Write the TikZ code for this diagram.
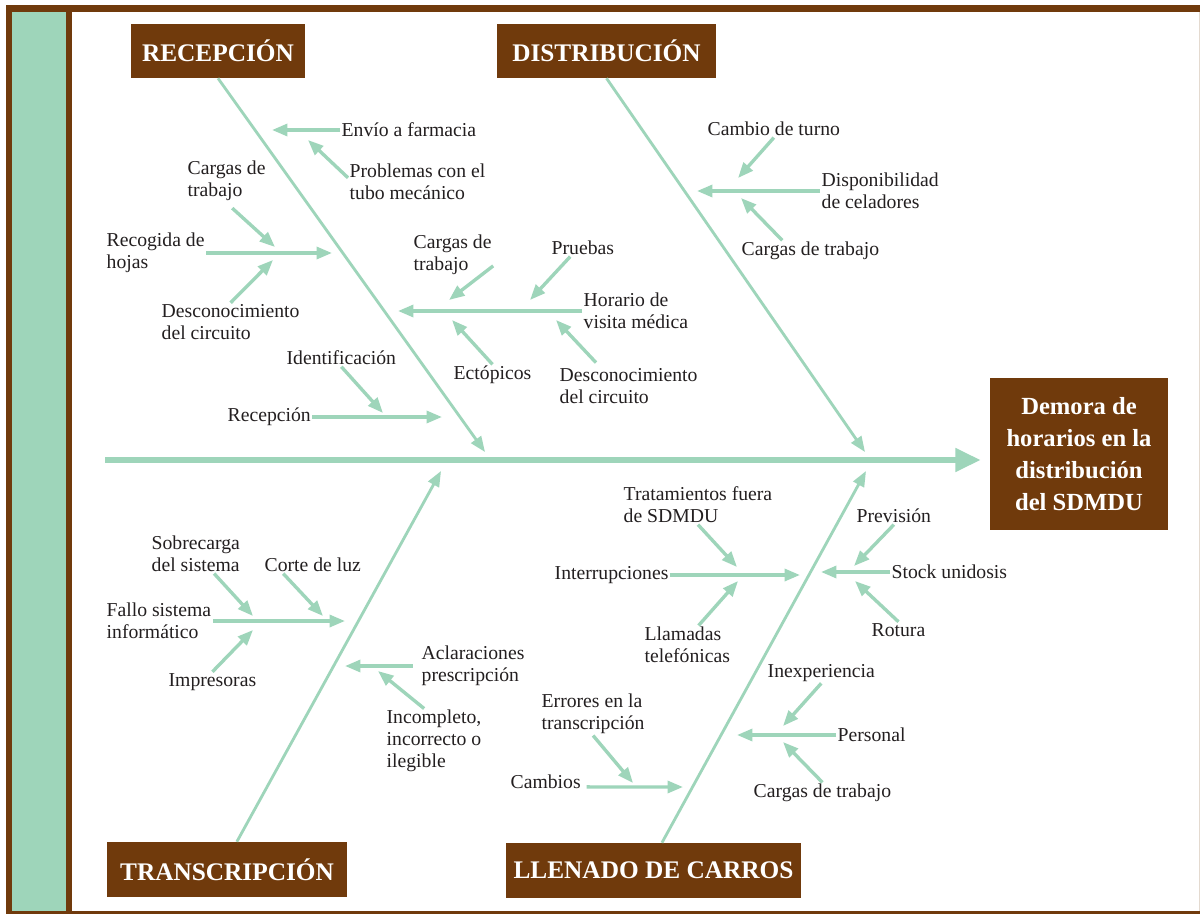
\documentclass[tikz,border=0pt]{standalone}
\usepackage{fontspec}
\setmainfont{Liberation Serif}
\usetikzlibrary{arrows.meta}
\definecolor{brownF}{RGB}{112,58,12}
\definecolor{mint}{RGB}{158,213,186}
\definecolor{ink}{RGB}{35,31,32}
\definecolor{rim}{RGB}{228,218,208}
\newcommand\lblfont{\fontsize{14}{15.5}\selectfont}
\newcommand\hdrfont{\bfseries\fontsize{18}{20}\selectfont}
\newcommand\effont{\bfseries\fontsize{17.5}{22.7}\selectfont}

\begin{document}
\begin{tikzpicture}[
  x=0.025cm, y=-0.025cm,
  lab/.style={anchor=west, font=\lblfont, text=ink, inner sep=1pt, align=left},
  cat/.style={fill=brownF, text=white, font=\hdrfont, inner sep=0pt, minimum height=38.4pt},
  spine/.style={draw=mint, line width=4.2pt, -{Triangle[length=18pt,width=16pt]}},
  bone/.style={draw=mint, line width=2pt, -{Triangle[length=11pt,width=8.5pt]}},
  sub/.style={draw=mint, line width=2.4pt, -{Triangle[length=11pt,width=8.5pt]}},
]
\useasboundingbox (0,0) rectangle (1201,914);
% frame
\fill[brownF] (6,5) rectangle (1200,914);
\fill[white] (72,12) rectangle (1199,911);
\fill[mint] (12,12) rectangle (66,911);
\draw[rim, line width=0.8pt] (1199.5,12) -- (1199.5,911);

% categories and effect
\node[cat, minimum width=123.8pt] (recepcion) at (218,51) {RECEPCIÓN};
\node[cat, minimum width=155.8pt] (distribucion) at (606.5,51) {DISTRIBUCIÓN};
\node[cat, minimum width=170.7pt, minimum height=39.1pt] (transcripcion) at (227,869.5) {TRANSCRIPCIÓN};
\node[cat, minimum width=209.8pt, minimum height=39.1pt] (llenado) at (653.5,870.5) {LLENADO DE CARROS};
\node[cat, font=\effont, align=center, minimum width=126.6pt, minimum height=108.1pt] (efecto) at (1079,454)
  {Demora de\\horarios en la\\distribución\\del SDMDU};

% spine and bones
\coordinate (cola) at (105,460);
\draw[spine, shorten >=6.4pt] (cola) -- (efecto.west |- cola);
\coordinate (rec-end) at (485,452);
\coordinate (dis-end) at (865,452);
\coordinate (tra-end) at (441,471);
\coordinate (lle-end) at (866,471);
\draw[bone] (recepcion.south) -- (rec-end);
\draw[bone] (distribucion.south) -- (dis-end);
\draw[bone] ([xshift=7pt]transcripcion.north) -- (tra-end);
\draw[bone] ([xshift=6pt]llenado.north) -- (lle-end);

% Recepcion
\node[lab] (envio) at (340,130) {Envío a farmacia};
\node[lab] (tubo) at (348,182) {Problemas con el\\tubo mecánico};
\node[lab] (hojas) at (105,253) {Recogida de\\hojas};
\node[lab] (cargasR1) at (186,181) {Cargas de\\trabajo};
\node[lab] (descR1) at (160,322) {Desconocimiento\\del circuito};
\node[lab] (horario) at (582,311) {Horario de\\visita médica};
\node[lab] (cargasR2) at (412,255) {Cargas de\\trabajo};
\node[lab] (pruebas) at (550,248) {Pruebas};
\node[lab] (ecto) at (452,375) {Ectópicos};
\node[lab] (descR2) at (558,386) {Desconocimiento\\del circuito};
\node[lab] (ident) at (285,358) {Identificación};
\node[lab] (recep) at (226,417) {Recepción};
\coordinate (envio-e) at (272,130);
\coordinate (tubo-e) at (308,140);
\coordinate (hojas-e) at (332,253);
\coordinate (cargasR1-e) at (275,247);
\coordinate (descR1-e) at (273,260);
\coordinate (horario-e) at (398,311);
\coordinate (cargasR2-e) at (449,300);
\coordinate (pruebas-e) at (530,300);
\coordinate (ecto-e) at (452,320);
\coordinate (descR2-e) at (556,320);
\coordinate (ident-e) at (383,413);
\coordinate (recep-e) at (442,417);
\draw[sub] (envio.west) -- (envio-e);
\draw[sub] ([yshift=3pt]tubo.west) -- (tubo-e);
\draw[sub] (hojas.east) -- (hojas-e);
\draw[sub] ([xshift=4pt,yshift=-4pt]cargasR1.south) -- (cargasR1-e);
\draw[sub] (descR1.north) -- (descR1-e);
\draw[sub] (horario.west) -- (horario-e);
\draw[sub] (cargasR2.-15) -- (cargasR2-e);
\draw[sub] ([xshift=-9pt]pruebas.south) -- (pruebas-e);
\draw[sub] (ecto.north) -- (ecto-e);
\draw[sub] ([xshift=27pt,yshift=3pt]descR2.north west) -- (descR2-e);
\draw[sub] (ident.south) -- (ident-e);
\draw[sub] (recep.east) -- (recep-e);

% Distribucion
\node[lab] (celad) at (820,191) {Disponibilidad\\de celadores};
\node[lab] (turno) at (706,129) {Cambio de turno};
\node[lab] (cargasD) at (740,251) {Cargas de trabajo};
\coordinate (celad-e) at (697,191);
\coordinate (turno-e) at (738,178);
\coordinate (cargasD-e) at (741,198);
\draw[sub] (celad.west) -- (celad-e);
\draw[sub] (turno.south) -- (turno-e);
\draw[sub] ([xshift=-20pt]cargasD.north) -- (cargasD-e);

% Transcripcion
\node[lab] (fallo) at (105,621) {Fallo sistema\\informático};
\node[lab] (sobre) at (150,554) {Sobrecarga\\del sistema};
\node[lab] (luz) at (263,565) {Corte de luz};
\node[lab] (impre) at (167,682) {Impresoras};
\node[lab] (aclar) at (420,666) {Aclaraciones\\prescripción};
\node[lab] (incomp) at (385,741) {Incompleto,\\incorrecto o\\ilegible};
\coordinate (fallo-e) at (345,621);
\coordinate (sobre-e) at (253,616);
\coordinate (luz-e) at (323,616);
\coordinate (impre-e) at (253,630);
\coordinate (aclar-e) at (345,666);
\coordinate (incomp-e) at (378,671);
\draw[sub] (fallo.east) -- (fallo-e);
\draw[sub] ([xshift=13pt]sobre.south) -- (sobre-e);
\draw[sub] ([xshift=-21pt]luz.south) -- (luz-e);
\draw[sub] (impre.north) -- (impre-e);
\draw[sub] ([xshift=-5pt]aclar.west) -- (aclar-e);
\draw[sub] ([xshift=-7pt]incomp.north) -- (incomp-e);

% Llenado de carros
\node[lab] (interr) at (553,575) {Interrupciones};
\node[lab] (trat) at (622,505) {Tratamientos fuera\\de SDMDU};
\node[lab] (llam) at (643,645) {Llamadas\\telefónicas};
\node[lab] (stock) at (890,572) {Stock unidosis};
\node[lab] (prev) at (855,516) {Previsión};
\node[lab] (rotura) at (870,630) {Rotura};
\node[lab] (personal) at (836,735) {Personal};
\node[lab] (inexp) at (766,673) {Inexperiencia};
\node[lab] (cargasL) at (752,793) {Cargas de trabajo};
\node[lab] (cambios) at (509,782) {Cambios};
\node[lab] (errores) at (540,714) {Errores en la\\transcripción};
\coordinate (interr-e) at (800,575);
\coordinate (trat-e) at (737,567);
\coordinate (llam-e) at (738,581);
\coordinate (stock-e) at (821,572);
\coordinate (prev-e) at (854,566);
\coordinate (rotura-e) at (855,581);
\coordinate (personal-e) at (737,735);
\coordinate (inexp-e) at (783,726);
\coordinate (cargasL-e) at (783,742);
\coordinate (cambios-e) at (683,787);
\coordinate (errores-e) at (633,783);
\draw[sub] (interr.east) -- (interr-e);
\draw[sub] (trat.south) -- (trat-e);
\draw[sub] ([xshift=8pt]llam.north) -- (llam-e);
\draw[sub] (stock.west) -- (stock-e);
\draw[sub] (prev.south) -- (prev-e);
\draw[sub] (rotura.north) -- (rotura-e);
\draw[sub] (personal.west) -- (personal-e);
\draw[sub] (inexp.south) -- (inexp-e);
\draw[sub] (cargasL.north) -- (cargasL-e);
\draw[sub] ([xshift=3pt,yshift=-3.5pt]cambios.east) -- (cambios-e);
\draw[sub] (errores.south) -- (errores-e);
\end{tikzpicture}
\end{document}
